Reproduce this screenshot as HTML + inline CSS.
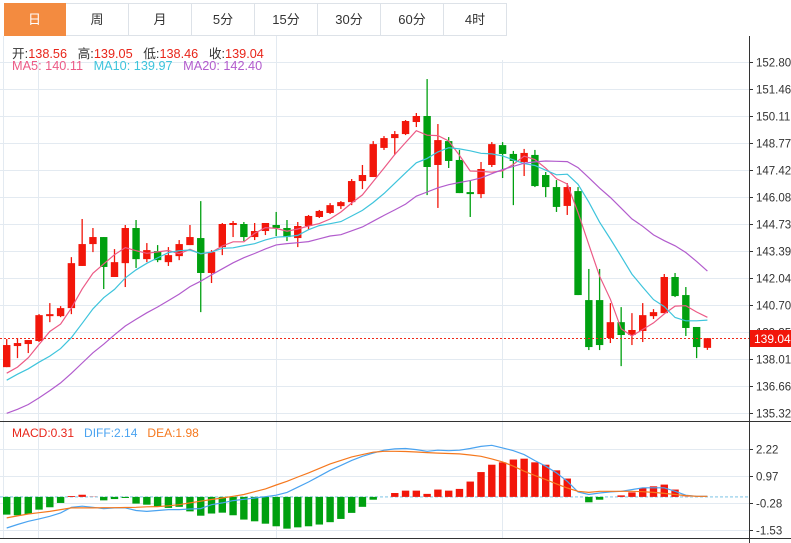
<!DOCTYPE html>
<html><head><meta charset="utf-8">
<style>
html,body{margin:0;padding:0;background:#fff;}
body{width:791px;height:543px;overflow:hidden;position:relative;font-family:"Liberation Sans","Noto Sans CJK SC",sans-serif;}
.tabs{position:absolute;left:4px;top:3px;height:33px;display:flex;}
.tab{width:63px;height:33px;border:1px solid #dde2e8;border-left:none;box-sizing:border-box;text-align:center;line-height:32px;font-size:13px;color:#333;background:#fff;}
.tab.active{background:#f38b40;color:#fff;border-color:#f38b40;width:62px;}
.leg{position:absolute;font-size:12.7px;white-space:nowrap;}
svg{position:absolute;left:0;top:0;}
</style></head>
<body>
<div class="tabs">
<div class="tab active">日</div>
<div class="tab">周</div>
<div class="tab">月</div>
<div class="tab">5分</div>
<div class="tab">15分</div>
<div class="tab">30分</div>
<div class="tab">60分</div>
<div class="tab">4时</div>
</div>
<svg id="chart" width="791" height="543"></svg>
<div class="leg" style="left:12px;top:43px;color:#333">开:<span style="color:#e8251a">138.56</span>&nbsp;&nbsp; 高:<span style="color:#e8251a">139.05</span>&nbsp;&nbsp; 低:<span style="color:#e8251a">138.46</span>&nbsp;&nbsp; 收:<span style="color:#e8251a">139.04</span></div>
<div class="leg" style="left:12px;top:59px"><span style="color:#ec5a86">MA5: 140.11</span>&nbsp;&nbsp; <span style="color:#3ec4dc">MA10: 139.97</span>&nbsp;&nbsp; <span style="color:#b25ccd">MA20: 142.40</span></div>
<div class="leg" style="left:12px;top:426px;font-size:12px"><span style="color:#e8251a">MACD:0.31</span>&nbsp;&nbsp;&nbsp;<span style="color:#4aa3f0">DIFF:2.14</span>&nbsp;&nbsp;&nbsp;<span style="color:#f5781e">DEA:1.98</span></div>
<script>
const priorCloses=[134.8,134.2,133.6,133.0,132.8,133.2,133.5,133.9,134.1,133.4,135.8,136.3,136.9,137.2,136.8,137.3,136.6,136.9,137.0];
const opens=[137.60,138.65,138.75,138.90,140.14,140.14,140.54,142.64,143.73,144.08,142.09,142.78,144.53,142.98,143.38,142.83,143.13,143.68,144.03,142.29,143.58,144.68,144.73,144.08,144.38,144.68,144.53,144.03,144.63,145.08,145.28,145.62,145.82,146.87,147.07,148.52,149.01,149.21,149.81,150.11,147.67,148.86,147.92,146.32,146.22,147.67,148.66,148.22,147.82,148.17,147.17,146.57,145.63,146.37,140.94,140.94,139.05,139.84,139.20,139.40,140.14,140.29,142.09,141.19,139.60,138.56];
const highs=[139.00,139.05,138.95,140.24,140.79,140.64,143.08,144.98,144.53,144.08,143.48,144.68,144.93,143.78,143.68,143.58,143.93,144.68,145.87,143.43,144.78,144.88,144.83,144.78,144.78,145.33,144.93,144.83,145.18,145.43,145.77,145.87,146.97,147.67,148.86,149.11,149.36,149.91,150.26,151.95,149.71,149.06,148.42,146.92,147.82,148.81,148.81,148.37,148.47,148.42,147.32,146.92,146.77,146.57,142.49,142.49,140.79,140.59,140.29,140.79,140.49,142.24,142.29,141.59,139.60,139.05];
const lows=[137.60,138.05,138.30,138.85,139.84,140.09,140.24,142.64,143.33,141.49,142.09,141.59,142.54,142.83,142.83,142.64,142.93,143.68,140.34,141.79,143.18,144.08,143.88,143.93,144.18,144.13,143.88,143.58,144.43,145.03,145.23,145.48,145.67,146.47,147.07,148.42,148.17,149.16,149.56,146.17,145.53,147.52,146.27,145.08,146.02,147.57,147.02,145.67,147.12,146.57,146.07,145.33,145.18,141.19,138.45,138.45,138.80,137.65,138.70,138.85,140.00,140.29,141.09,139.15,138.05,138.46];
const closes=[138.70,138.80,138.95,140.19,140.24,140.54,142.78,143.73,144.08,142.59,142.83,144.53,142.98,143.43,142.93,143.18,143.73,144.08,142.29,143.33,144.73,144.78,144.08,144.38,144.78,144.53,144.08,144.63,145.13,145.38,145.67,145.82,146.87,147.17,148.71,149.01,149.21,149.86,150.11,147.57,148.91,147.87,146.27,146.22,147.47,148.71,148.22,147.87,148.27,146.62,146.57,145.58,146.57,141.19,138.60,138.70,139.84,139.20,139.45,140.19,140.34,142.09,141.14,139.55,138.60,139.04];
const macdHist=[-0.82,-0.85,-0.79,-0.59,-0.48,-0.28,0.04,0.10,0.01,-0.16,-0.10,-0.05,-0.31,-0.36,-0.46,-0.51,-0.46,-0.67,-0.87,-0.77,-0.73,-0.85,-1.05,-1.13,-1.24,-1.36,-1.47,-1.41,-1.36,-1.28,-1.17,-1.02,-0.74,-0.46,-0.13,0.0,0.18,0.29,0.29,0.14,0.34,0.29,0.37,0.71,1.15,1.49,1.60,1.73,1.77,1.60,1.49,1.23,0.85,0.0,-0.25,-0.13,0.0,0.07,0.21,0.41,0.49,0.57,0.34,0.01,0.0,0.0];
const diffVals=[-1.44,-1.28,-1.13,-1.02,-0.90,-0.74,-0.48,-0.43,-0.48,-0.54,-0.51,-0.51,-0.63,-0.67,-0.63,-0.59,-0.59,-0.56,-0.54,-0.36,-0.28,-0.17,-0.11,-0.05,0.01,0.08,0.21,0.45,0.69,0.96,1.23,1.46,1.69,1.88,2.03,2.16,2.22,2.24,2.19,2.11,2.16,2.14,2.16,2.24,2.34,2.39,2.27,2.14,1.96,1.68,1.42,1.11,0.72,0.23,0.11,0.18,0.23,0.26,0.34,0.42,0.42,0.42,0.26,0.08,0.03,0.03];
const deaVals=[-0.97,-0.88,-0.79,-0.73,-0.67,-0.59,-0.51,-0.51,-0.51,-0.50,-0.50,-0.49,-0.48,-0.46,-0.45,-0.41,-0.36,-0.28,-0.20,-0.12,-0.05,0.03,0.11,0.24,0.37,0.55,0.72,0.92,1.11,1.32,1.53,1.69,1.85,1.96,2.07,2.11,2.11,2.10,2.08,2.05,2.03,2.01,1.99,1.94,1.88,1.76,1.62,1.42,1.19,0.99,0.80,0.60,0.41,0.26,0.21,0.26,0.26,0.26,0.26,0.24,0.21,0.16,0.11,0.06,0.03,0.03];
const priceTicks=["152.80","151.46","150.11","148.77","147.42","146.08","144.73","143.39","142.04","140.70","139.35","138.01","136.66","135.32"];
const macdTicks=["2.22","0.97","-0.28","-1.53"];
const lastPrice=139.04;

const NS="http://www.w3.org/2000/svg";
const svg=document.getElementById('chart');
function mk(tag,attrs,parent){const e=document.createElementNS(NS,tag);for(const k in attrs)e.setAttribute(k,attrs[k]);(parent||svg).appendChild(e);return e;}
const xOf=i=>6.7+i*10.78;
const yP=p=>62+(152.80-p)*27/1.345;
const yM=v=>496.9-v*21.6;
const RED="#f2160a",GREEN="#00a010";

const defs=mk('defs',{});
const cp=mk('clipPath',{id:'mainclip'},defs);mk('rect',{x:0,y:36,width:749,height:385},cp);
const cp2=mk('clipPath',{id:'macdclip'},defs);mk('rect',{x:0,y:422,width:749,height:116},cp2);

const grid=mk('g',{stroke:'#e3eaf1','stroke-width':1});


priceTicks.forEach(t=>{const y=Math.round(yP(parseFloat(t)))+0.5;mk('line',{x1:0,x2:749,y1:y,y2:y},grid);});
macdTicks.forEach(t=>{const y=Math.round(yM(parseFloat(t)))+0.5;mk('line',{x1:0,x2:749,y1:y,y2:y},grid);});
[38.5,276.5,502.5].forEach(x=>{mk('line',{x1:x,x2:x,y1:60,y2:539},grid);});
mk('line',{x1:276.5,x2:276.5,y1:36,y2:80},grid);
mk('line',{x1:3.5,x2:3.5,y1:36,y2:539},grid);

const ax=mk('g',{stroke:'#333','stroke-width':1});


mk('line',{x1:749.5,x2:749.5,y1:36,y2:543},ax);
mk('line',{x1:0,x2:791,y1:421.5,y2:421.5},ax);
mk('line',{x1:0,x2:791,y1:538.5,y2:538.5},ax);

priceTicks.forEach(t=>{const y=Math.round(yP(parseFloat(t)))+0.5;
 mk('line',{x1:749,x2:753,y1:y,y2:y,stroke:'#333'});
 const tx=mk('text',{x:756,y:y+4,'font-size':11.5,fill:'#333','font-family':'Liberation Sans, sans-serif'});tx.textContent=t;
 
 });
macdTicks.forEach(t=>{const y=Math.round(yM(parseFloat(t)))+0.5;
 mk('line',{x1:749,x2:753,y1:y,y2:y,stroke:'#333'});
 const tx=mk('text',{x:756,y:y+4,'font-size':11.5,fill:'#333','font-family':'Liberation Sans, sans-serif'});tx.textContent=t;
 
 });

const main=mk('g',{'clip-path':'url(#mainclip)'});
const all=priorCloses.concat(closes);const P=priorCloses.length;
function ma(n){const out=[];for(let i=0;i<closes.length;i++){let s=0;for(let k=0;k<n;k++)s+=all[P+i-k];out.push(s/n);}return out;}
const candles=mk('g',{},main);


for(let i=0;i<closes.length;i++){
 const up=closes[i]>=opens[i];const col=up?RED:GREEN;const x=xOf(i);
 const g=mk('g',{},candles);
 
 
 mk('line',{x1:x,x2:x,y1:yP(highs[i]),y2:yP(lows[i]),stroke:col,'stroke-width':1.3},g);
 const t=yP(Math.max(opens[i],closes[i])),b=yP(Math.min(opens[i],closes[i]));
 mk('rect',{x:x-3.7,y:t,width:7.4,height:Math.max(1.5,b-t),fill:col},g);
}
[[5,'#ec5a86','ma5-line'],[10,'#3ec4dc','ma10-line'],[20,'#b25ccd','ma20-line']].forEach(([n,c,name])=>{
 const v=ma(n);const pts=v.map((p,i)=>xOf(i).toFixed(1)+','+yP(p).toFixed(1)).join(' ');
 const pl=mk('polyline',{points:pts,fill:'none',stroke:c,'stroke-width':1.2},main);
 
 
});
const ly=Math.round(yP(lastPrice))+0.5;
const dl=mk('line',{x1:0,x2:749,y1:ly,y2:ly,stroke:'#f02a1a','stroke-width':1,'stroke-dasharray':'2,2'});


const lb=mk('g',{});


mk('rect',{x:750,y:ly-8.5,width:41,height:17,fill:'#f2160a'},lb);
const lt=mk('text',{x:754,y:ly+4.5,'font-size':12,fill:'#fff','font-family':'Liberation Sans, sans-serif'},lb);lt.textContent=lastPrice.toFixed(2);

const mg=mk('g',{'clip-path':'url(#macdclip)'});


const zy=yM(0);
mk('line',{x1:0,x2:749,y1:zy,y2:zy,stroke:'#a8d8ee','stroke-width':1.5,'stroke-dasharray':'3,2'},mg);
macdHist.forEach((v,i)=>{
 if(Math.abs(v)<0.005)return;
 const y=yM(v);const r=mk('rect',{x:xOf(i)-3.7,y:Math.min(y,zy),width:7.4,height:Math.abs(y-zy),fill:v>0?RED:GREEN},mg);
 
 
});
[[diffVals,'#4aa3f0','diff-line'],[deaVals,'#f5781e','dea-line']].forEach(([arr,c,name])=>{
 const pts=arr.map((v,i)=>xOf(i).toFixed(1)+','+yM(v).toFixed(1)).join(' ');
 const pl=mk('polyline',{points:pts,fill:'none',stroke:c,'stroke-width':1.2},mg);
 
 
});
</script>
</body></html>
